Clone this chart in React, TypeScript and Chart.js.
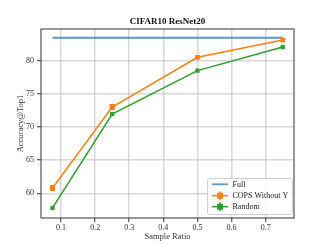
import { useEffect, useRef } from "react";
import { Chart, registerables } from "chart.js";

Chart.register(...registerables);

const titleText = "CIFAR10 ResNet20";
const xTitle = "Sample Ratio";
const yTitle = "Accuracy@Top1";

const fullX = [0.075, 0.75];
const fullAccuracy = [83.45, 83.45];

const sampleRatios = [0.075, 0.25, 0.5, 0.75];
const copsAccuracy = [60.8, 73.0, 80.5, 83.1];
const copsError = [0.45, 0.45, 0, 0];
const randomAccuracy = [57.8, 71.95, 78.5, 82.05];

const xTicks = [0.1, 0.2, 0.3, 0.4, 0.5, 0.6, 0.7];
const yTicks = [60, 65, 70, 75, 80];

const seriesNames = ["Full", "COPS Without Y", "Random"];
const BLUE = "rgba(31,119,180,0.75)";
const ORANGE = "#ff7f0e";
const GREEN = "#2ca02c";
const FONT = "'Liberation Serif', 'DejaVu Serif', serif";

export default function App() {
  const ref = useRef<HTMLCanvasElement | null>(null);

  useEffect(() => {
    if (!ref.current) return;

    const errData: any[] = [];
    sampleRatios.forEach((x, i) => {
      if (copsError[i] > 0) {
        errData.push({ x, y: copsAccuracy[i] - copsError[i] });
        errData.push({ x, y: copsAccuracy[i] + copsError[i] });
        errData.push({ x, y: null });
      }
    });

    const frame = {
      id: "frame",
      afterDatasetsDraw(chart: any) {
        const { ctx, chartArea: a } = chart;
        ctx.save();
        ctx.strokeStyle = "#333";
        ctx.lineWidth = 1;
        ctx.strokeRect(a.left, a.top, a.right - a.left, a.bottom - a.top);
        ctx.restore();
      },
      afterDraw(chart: any) {
        const { ctx, chartArea: a } = chart;
        ctx.save();
        // title
        ctx.fillStyle = "#111";
        ctx.font = `bold 9px ${FONT}`;
        ctx.textAlign = "center";
        ctx.textBaseline = "middle";
        ctx.fillText(titleText, (a.left + a.right) / 2, 21.5);

        // legend
        const bx = 207, by = 178, bw = 85, bh = 36;
        ctx.fillStyle = "rgba(255,255,255,0.85)";
        ctx.strokeStyle = "#d0d0d0";
        ctx.lineWidth = 1;
        ctx.beginPath();
        (ctx as any).roundRect(bx + 0.5, by + 0.5, bw, bh, 2);
        ctx.fill();
        ctx.stroke();
        const colors = [BLUE, ORANGE, GREEN];
        const rows = [184.3, 195.7, 206.7];
        ctx.font = `8px ${FONT}`;
        ctx.textAlign = "left";
        seriesNames.forEach((name, i) => {
          const y = rows[i];
          ctx.strokeStyle = colors[i];
          ctx.lineWidth = i === 0 ? 1.8 : 1.5;
          ctx.beginPath();
          ctx.moveTo(212, y);
          ctx.lineTo(228, y);
          ctx.stroke();
          if (i > 0) {
            ctx.lineWidth = 1.5;
            ctx.beginPath();
            ctx.moveTo(220, y - 4.5);
            ctx.lineTo(220, y + 4.5);
            ctx.stroke();
            ctx.fillStyle = colors[i];
            ctx.fillRect(217, y - 3, 6, 6);
          }
          ctx.fillStyle = "#222";
          ctx.fillText(name, 232.5, y + 0.5);
        });
        ctx.restore();
      },
    };

    const chart = new Chart(ref.current, {
      type: "line",
      data: {
        datasets: [
          {
            label: seriesNames[0],
            data: fullX.map((x, i) => ({ x, y: fullAccuracy[i] })),
            borderColor: BLUE,
            borderWidth: 2,
            pointRadius: 0,
            order: 3,
          },
          {
            label: seriesNames[1],
            data: sampleRatios.map((x, i) => ({ x, y: copsAccuracy[i] })),
            borderColor: ORANGE,
            backgroundColor: ORANGE,
            borderWidth: 1.5,
            pointStyle: "rect",
            pointRadius: 3.3,
            pointBorderWidth: 0,
            order: 2,
          },
          {
            label: "err",
            data: errData,
            borderColor: ORANGE,
            borderWidth: 5,
            borderCapStyle: "butt",
            pointRadius: 0,
            spanGaps: false,
            order: 2,
          },
          {
            label: seriesNames[2],
            data: sampleRatios.map((x, i) => ({ x, y: randomAccuracy[i] })),
            borderColor: GREEN,
            backgroundColor: GREEN,
            borderWidth: 1.5,
            pointStyle: "rect",
            pointRadius: 3,
            pointBorderWidth: 0,
            order: 1,
          },
        ] as any,
      },
      options: {
        responsive: false,
        animation: false,
        layout: { padding: { top: 29, right: 33, left: 0, bottom: 0 } },
        plugins: {
          legend: { display: false },
          title: { display: false },
          tooltip: { enabled: false },
        },
        scales: {
          x: {
            type: "linear",
            min: 0.0413,
            max: 0.783,
            afterBuildTicks: (s: any) => {
              s.ticks = xTicks.map((v) => ({ value: v }));
            },
            afterFit: (s: any) => {
              s.height = 27;
            },
            grid: {
              color: "rgba(190,190,190,0.6)",
              lineWidth: 1.5,
              tickLength: 4,
              tickColor: "#333",
              tickWidth: 1,
            },
            border: { display: false },
            ticks: {
              padding: 1,
              color: "#333",
              font: { family: FONT, size: 8 },
              maxRotation: 0,
              callback: (v: any) => Number(v).toFixed(1),
            },
            title: {
              display: true,
              text: xTitle,
              color: "#333",
              font: { family: FONT, size: 8.5 },
              padding: { top: 0, bottom: 3 },
            },
          },
          y: {
            type: "linear",
            min: 56.28,
            max: 84.77,
            afterBuildTicks: (s: any) => {
              s.ticks = yTicks.map((v) => ({ value: v }));
            },
            afterFit: (s: any) => {
              s.width = 41;
            },
            grid: {
              color: "rgba(190,190,190,0.6)",
              lineWidth: 1.5,
              tickLength: 4,
              tickColor: "#333",
              tickWidth: 1,
            },
            border: { display: false },
            ticks: {
              padding: 3,
              color: "#333",
              font: { family: FONT, size: 8 },
              callback: (v: any) => String(v),
            },
            title: {
              display: true,
              text: yTitle,
              color: "#333",
              font: { family: FONT, size: 8.5 },
              padding: { top: 16, bottom: 0 },
            },
          },
        },
      } as any,
      plugins: [frame],
    });

    return () => chart.destroy();
  }, []);

  return (
    <div style={{ position: "fixed", left: 0, top: 0, width: 327, height: 245, background: "#fff" }}>
      <canvas ref={ref} width={327} height={245} style={{ display: "block" }} />
    </div>
  );
}
